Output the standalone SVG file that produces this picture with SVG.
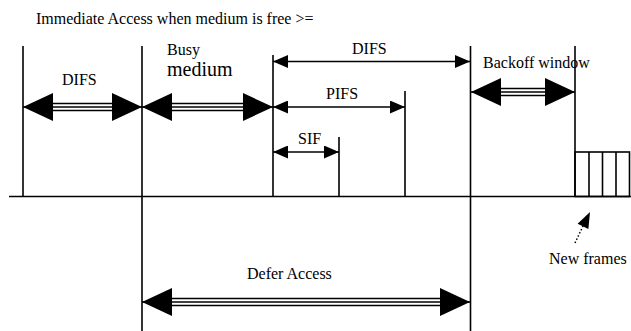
<svg xmlns="http://www.w3.org/2000/svg" width="631" height="331" viewBox="0 0 631 331">
<style>
text{font-family:"Liberation Serif","Times New Roman",serif;font-size:16px;fill:#000}
.ln{stroke:#000;stroke-width:1.6;fill:none}
.sh{stroke:#000;stroke-width:1.5;fill:none}
.tri{stroke:#000;stroke-width:1.5}
.dot{stroke:#000;stroke-width:1.5;stroke-dasharray:1.5 2;fill:none}
</style>
<defs>
<marker id="big" viewBox="0 0 30 28" refX="30" refY="14" markerWidth="30" markerHeight="28" markerUnits="userSpaceOnUse" orient="auto-start-reverse">
<path d="M0,0 L30,14 L0,28 z" fill="#000"/>
</marker>
<marker id="small" viewBox="0 0 15 13" refX="15" refY="6.5" markerWidth="15" markerHeight="13" markerUnits="userSpaceOnUse" orient="auto-start-reverse">
<path d="M0,0 L15,6.5 L0,13 z" fill="#000"/>
</marker>
</defs>
<rect width="631" height="331" fill="#fff"/>
<text x="36" y="24">Immediate Access when medium is free &gt;=</text>
<g id="timeline">
<line class="ln" x1="9" y1="196.5" x2="631" y2="196.5"/>
<line class="ln" x1="23" y1="46" x2="23" y2="197"/>
<line class="ln" x1="142" y1="46" x2="142" y2="331"/>
<line class="ln" x1="273" y1="55" x2="273" y2="197"/>
<line class="ln" x1="339" y1="137" x2="339" y2="197"/>
<line class="ln" x1="405" y1="91" x2="405" y2="197"/>
<line class="ln" x1="470.5" y1="46" x2="470.5" y2="331"/>
<line class="ln" x1="575" y1="46" x2="575" y2="197"/>
</g>
<g id="frames">
<rect class="ln" x="575" y="152" width="54.5" height="44.5"/>
<line class="ln" x1="589" y1="152" x2="589" y2="196.5"/>
<line class="ln" x1="602.5" y1="152" x2="602.5" y2="196.5"/>
<line class="ln" x1="616" y1="152" x2="616" y2="196.5"/>
</g>
<g id="connectors">
<g id="difs-left">
<line class="sh" x1="23" y1="107" x2="142" y2="107" marker-start="url(#big)" marker-end="url(#big)"/>
<line class="sh" x1="50" y1="103.5" x2="115" y2="103.5"/>
<line class="sh" x1="50" y1="110.5" x2="115" y2="110.5"/>
</g>
<g id="busy">
<line class="sh" x1="142" y1="107" x2="273" y2="107" marker-start="url(#big)" marker-end="url(#big)"/>
<line class="sh" x1="169" y1="103.5" x2="246" y2="103.5"/>
<line class="sh" x1="169" y1="110.5" x2="246" y2="110.5"/>
</g>
<g id="backoff">
<line class="sh" x1="471" y1="92" x2="575" y2="92" marker-start="url(#big)" marker-end="url(#big)"/>
<line class="sh" x1="498" y1="88.5" x2="548" y2="88.5"/>
<line class="sh" x1="498" y1="95.5" x2="548" y2="95.5"/>
</g>
<g id="defer">
<line class="sh" x1="142" y1="302" x2="470" y2="302" marker-start="url(#big)" marker-end="url(#big)"/>
<line class="sh" x1="169" y1="298.5" x2="443" y2="298.5"/>
<line class="sh" x1="169" y1="305.5" x2="443" y2="305.5"/>
</g>
<line id="difs-top" class="sh" x1="273" y1="61.5" x2="470" y2="61.5" marker-start="url(#small)" marker-end="url(#small)"/>
<line id="pifs" class="sh" x1="273" y1="107" x2="405" y2="107" marker-start="url(#small)" marker-end="url(#small)"/>
<line id="sif" class="sh" x1="273" y1="152" x2="339" y2="152" marker-start="url(#small)" marker-end="url(#small)"/>
<g id="newframes-arrow">
<line class="dot" x1="575" y1="243" x2="583" y2="226"/>
<polygon points="590,212 588.4,229 577.6,223.8" fill="#000"/>
</g>
</g>
<g id="labels">
<text x="62" y="85">DIFS</text>
<text x="167" y="55">Busy</text>
<text x="167" y="76" style="font-size:20px">medium</text>
<text x="352" y="54">DIFS</text>
<text x="326" y="99">PIFS</text>
<text x="298" y="144">SIF</text>
<text x="483" y="68">Backoff window</text>
<text x="247" y="279">Defer Access</text>
<text x="549" y="264">New frames</text>
</g>
</svg>
